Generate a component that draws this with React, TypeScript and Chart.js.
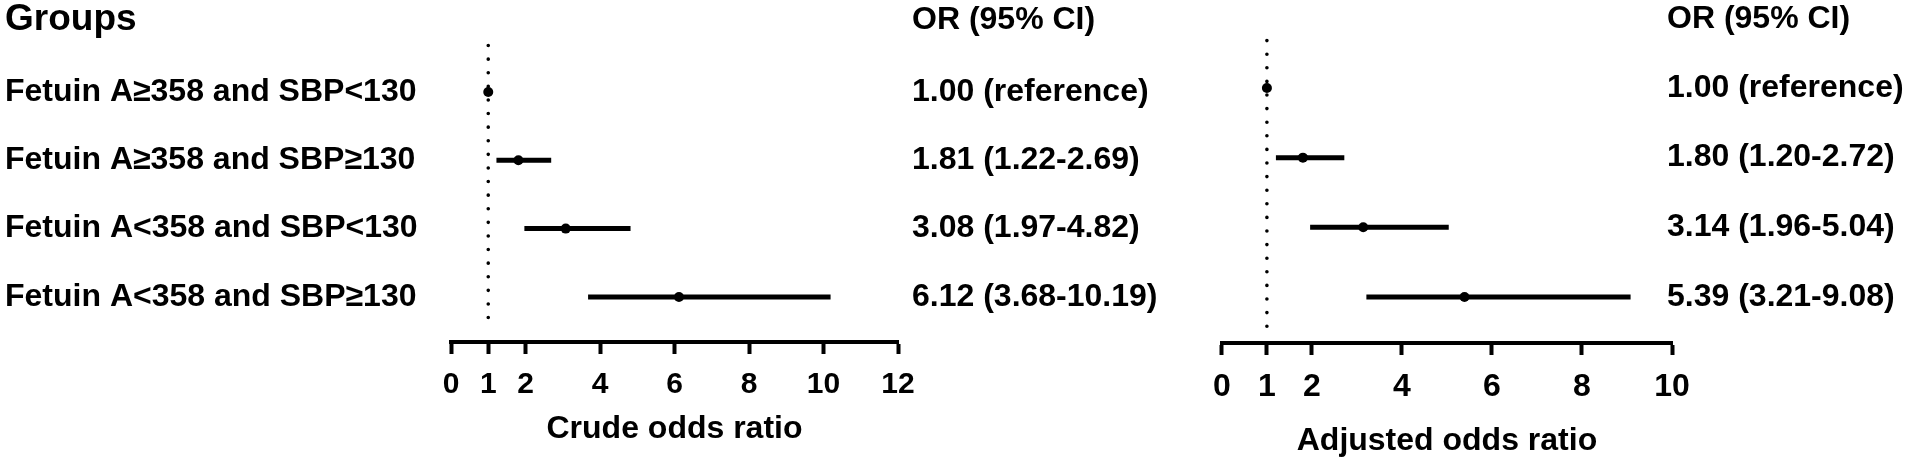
import React, { useEffect, useRef } from "react";
import { Chart, registerables } from "chart.js";

Chart.register(...registerables);

const groups = [
  "Fetuin A≥358 and SBP<130",
  "Fetuin A≥358 and SBP≥130",
  "Fetuin A<358 and SBP<130",
  "Fetuin A<358 and SBP≥130",
];
const crudeOR = [1.0, 1.81, 3.08, 6.12];
const crudeLo = [1.0, 1.22, 1.97, 3.68];
const crudeHi = [1.0, 2.69, 4.82, 10.19];
const adjOR = [1.0, 1.8, 3.14, 5.39];
const adjLo = [1.0, 1.2, 1.96, 3.21];
const adjHi = [1.0, 2.72, 5.04, 9.08];
const crudeTicks = [0, 1, 2, 4, 6, 8, 10, 12];
const adjTicks = [0, 1, 2, 4, 6, 8, 10];
const refLineY = [0.32, 4.48];

const FONT = '"Liberation Sans", Arial, sans-serif';

function orText(or: number[], lo: number[], hi: number[]) {
  return or.map((v, i) =>
    i === 0 ? `${v.toFixed(2)} (reference)` : `${v.toFixed(2)} (${lo[i].toFixed(2)}-${hi[i].toFixed(2)})`
  );
}

type PanelCfg = {
  width: number;
  padLeft: number;
  padRight: number;
  padTop: number;
  axisHeight: number;
  xMax: number;
  ticks: number[];
  tickFont: number;
  title: string;
  titlePadBottom: number;
  or: number[];
  lo: number[];
  hi: number[];
  textX: number;
  headerY: number;
  showGroups: boolean;
};

function makeChart(canvas: HTMLCanvasElement, cfg: PanelCfg) {
  const barData: any[] = [];
  cfg.or.forEach((_, i) => {
    barData.push({ x: cfg.lo[i], y: i + 1 });
    barData.push({ x: cfg.hi[i], y: i + 1 });
    barData.push({ x: cfg.hi[i], y: null });
  });
  const texts = orText(cfg.or, cfg.lo, cfg.hi);
  const textPlugin = {
    id: "texts" + cfg.title,
    afterDraw(chart: any) {
      const ctx = chart.ctx;
      const ys = chart.scales.y;
      ctx.save();
      ctx.fillStyle = "#000";
      ctx.textBaseline = "middle";
      ctx.textAlign = "left";
      if (cfg.showGroups) {
        ctx.font = `bold 37px ${FONT}`;
        ctx.fillText("Groups", 5, 20);
        ctx.font = `bold 32px ${FONT}`;
        groups.forEach((g, i) => ctx.fillText(g, 5, ys.getPixelForValue(i + 1)));
      }
      ctx.font = `bold 32px ${FONT}`;
      ctx.fillText("OR (95% CI)", cfg.textX, cfg.headerY);
      texts.forEach((t, i) => ctx.fillText(t, cfg.textX, ys.getPixelForValue(i + 1)));
      ctx.restore();
    },
  };
  return new Chart(canvas, {
    type: "scatter",
    data: {
      datasets: [
        {
          data: cfg.or.map((v, i) => ({ x: v, y: i + 1 })),
          pointRadius: 5,
          pointBackgroundColor: "#000",
          pointBorderColor: "#000",
          borderWidth: 0,
          order: 0,
        },
        {
          data: barData,
          showLine: true,
          spanGaps: false,
          borderColor: "#000",
          borderWidth: 5,
          pointRadius: 0,
          order: 1,
        },
        {
          data: refLineY.map((y) => ({ x: 1, y })),
          showLine: true,
          borderColor: "#000",
          borderWidth: 3.6,
          borderDash: [0, 13.6],
          borderCapStyle: "round",
          pointRadius: 0,
          order: 2,
        },
      ] as any,
    },
    options: {
      animation: false,
      responsive: false,
      events: [],
      layout: { padding: { left: cfg.padLeft, right: cfg.padRight, top: cfg.padTop, bottom: 0 } },
      plugins: { legend: { display: false }, tooltip: { enabled: false } },
      scales: {
        x: {
          type: "linear",
          min: 0,
          max: cfg.xMax,
          afterBuildTicks: (scale: any) => {
            scale.ticks = cfg.ticks.map((v) => ({ value: v }));
          },
          afterFit: (scale: any) => {
            scale.height = cfg.axisHeight;
          },
          border: { display: true, width: 4, color: "#000" },
          grid: { drawOnChartArea: false, drawTicks: true, tickLength: 12, tickWidth: 4, tickColor: "#000" },
          ticks: {
            color: "#000",
            padding: 13,
            autoSkip: false,
            maxRotation: 0,
            font: { family: FONT, size: cfg.tickFont, weight: "bold" },
          },
          title: {
            display: true,
            text: cfg.title,
            color: "#000",
            font: { family: FONT, size: 32, weight: "bold" },
            padding: { top: 0, bottom: cfg.titlePadBottom },
          },
        },
        y: {
          type: "linear",
          display: false,
          reverse: true,
          min: 0,
          max: 4.66,
        },
      },
    } as any,
    plugins: [textPlugin],
  });
}

export default function App() {
  const leftRef = useRef<HTMLCanvasElement>(null);
  const rightRef = useRef<HTMLCanvasElement>(null);
  useEffect(() => {
    document.body.style.margin = "0";
    document.body.style.overflow = "hidden";
    const c1 = makeChart(leftRef.current!, {
      width: 1200,
      padLeft: 451,
      padRight: 1200 - 898,
      padTop: 23.7,
      axisHeight: 466 - 342,
      xMax: 12,
      ticks: crudeTicks,
      tickFont: 30,
      title: "Crude odds ratio",
      titlePadBottom: 18,
      or: crudeOR,
      lo: crudeLo,
      hi: crudeHi,
      textX: 912,
      headerY: 20,
      showGroups: true,
    });
    const c2 = makeChart(rightRef.current!, {
      width: 725,
      padLeft: 1216 - 1200,
      padRight: 725 - (1672 - 1200),
      padTop: 18.3,
      axisHeight: 466 - 343,
      xMax: 10,
      ticks: adjTicks,
      tickFont: 32,
      title: "Adjusted odds ratio",
      titlePadBottom: 6,
      or: adjOR,
      lo: adjLo,
      hi: adjHi,
      textX: 1667 - 1200,
      headerY: 19,
      showGroups: false,
    });
    return () => {
      c1.destroy();
      c2.destroy();
    };
  }, []);
  return (
    <div style={{ position: "relative", width: 1925, height: 466, background: "#fff" }}>
      <canvas ref={leftRef} width={1200} height={466} style={{ position: "absolute", left: 0, top: 0 }} />
      <canvas ref={rightRef} width={725} height={466} style={{ position: "absolute", left: 1200, top: 0 }} />
    </div>
  );
}
